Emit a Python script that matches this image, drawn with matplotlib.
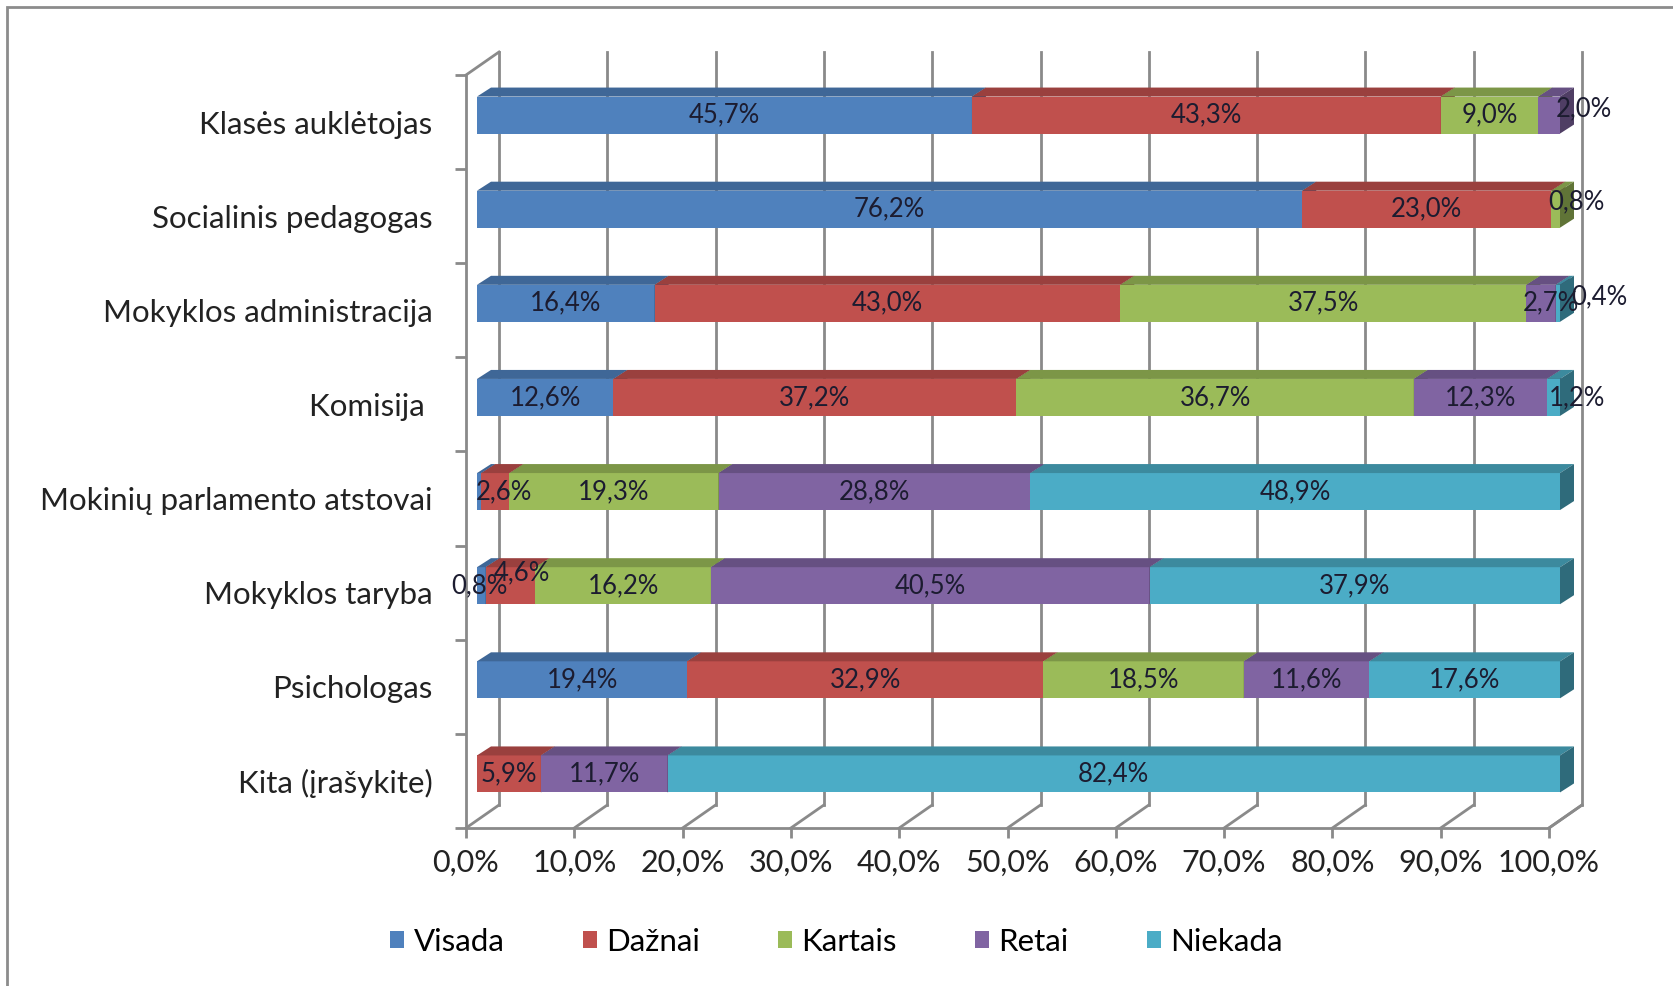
import matplotlib.pyplot as plt
from matplotlib.patches import Polygon, Patch, Rectangle
import numpy as np

plt.rcParams['font.family'] = ['Lato', 'DejaVu Sans']

# data (percent), rows top to bottom
categories = ['Klasės auklėtojas', 'Socialinis pedagogas', 'Mokyklos administracija',
              'Komisija ', 'Mokinių parlamento atstovai', 'Mokyklos taryba',
              'Psichologas', 'Kita (įrašykite)']
series = ['Visada', 'Dažnai', 'Kartais', 'Retai', 'Niekada']
visada = [45.7, 76.2, 16.4, 12.6, 0.4, 0.8, 19.4, 0.0]
daznai = [43.3, 23.0, 43.0, 37.2, 2.6, 4.6, 32.9, 5.9]
kartais = [9.0, 0.8, 37.5, 36.7, 19.3, 16.2, 18.5, 0.0]
retai = [2.0, 0.0, 2.7, 12.3, 28.8, 40.5, 11.6, 11.7]
niekada = [0.0, 0.0, 0.4, 1.2, 48.9, 37.9, 17.6, 82.4]
ticks = np.arange(0, 101, 10)

colors = ['#4F81BD', '#C0504D', '#9BBB59', '#8064A2', '#4BACC6']
hidden_labels = {(4, 0)}
# label nudges in pixels (dx, dy) where Excel moved small labels
nudges = {(0, 3): (35, -6), (1, 2): (21, -7), (2, 3): (10, 0), (2, 4): (42, -7),
          (3, 4): (24, 0), (4, 1): (9, 0), (5, 1): (11, -13), (5, 0): (-2, 0)}

W, H = 1673, 986
fig = plt.figure(figsize=(W / 100, H / 100), dpi=100)
ax = fig.add_axes([466 / W, 1 - 828 / H, 1083 / W, 753 / H])
ax.set_xlim(0, 100)
ax.set_ylim(8, 0)
PX = 100 / 1083
PY = 8 / 753

# 3D offsets
BX, BY = 11 * PX, -7 * PY      # bar front relative to axis plane
DX, DY = 14 * PX, -9 * PY      # bar depth
WX, WY = 33 * PX, -23 * PY     # back wall
HH = 18.5 * PY                 # half bar height

grid = '#8a8a8a'
# back wall gridlines and floor
for t in ticks:
    ax.plot([t + WX, t + WX], [8 + WY, WY], color=grid, lw=2, zorder=1, clip_on=False)
    ax.plot([t, t + WX], [8, 8 + WY], color=grid, lw=2, zorder=1, clip_on=False)
ax.plot([0, WX], [0, WY], color=grid, lw=2, zorder=1, clip_on=False)


def shade(c, f):
    r, g, b = [int(c[i:i + 2], 16) / 255 for i in (1, 3, 5)]
    return (r * f, g * f, b * f)


values = np.array([visada, daznai, kartais, retai, niekada]).T
for i, row in enumerate(values):
    yc = i + 0.5 + BY
    left = 0.0
    for k, v in enumerate(row):
        if v <= 0:
            continue
        x0, x1 = left + BX, left + v + BX
        yt, yb = yc - HH, yc + HH
        c = colors[k]
        ax.add_patch(Polygon([(x0, yb), (x1, yb), (x1, yt), (x0, yt)],
                             closed=True, fc=c, ec='none', zorder=3, clip_on=False))
        ax.add_patch(Polygon([(x0, yt), (x1, yt), (x1 + DX, yt + DY), (x0 + DX, yt + DY)],
                             closed=True, fc=shade(c, 0.8), ec='none', zorder=3, clip_on=False))
        ax.add_patch(Polygon([(x1, yt), (x1 + DX, yt + DY), (x1 + DX, yb + DY), (x1, yb)],
                             closed=True, fc=shade(c, 0.62), ec='none', zorder=3, clip_on=False))
        if (i, k) not in hidden_labels:
            nx, ny = nudges.get((i, k), (0, 0))
            ax.text((x0 + x1) / 2 + nx * PX, yc + ny * PY, f'{v:.1f}%'.replace('.', ','),
                    ha='center', va='center', fontsize=18.5, color='#1c1c30', zorder=5)
        left += v

# axes styling
for s in ['top', 'right']:
    ax.spines[s].set_visible(False)
for s in ['left', 'bottom']:
    ax.spines[s].set_color(grid)
    ax.spines[s].set_linewidth(2)
ax.plot([100, 100 + WX], [8, 8 + WY], color=grid, lw=2, clip_on=False, zorder=1)
ax.set_xticks(ticks)
ax.set_xticklabels([f'{t:.1f}%'.replace('.', ',') for t in ticks], fontsize=22, color='#222222')
ax.tick_params(axis='x', length=7, width=2, color=grid, pad=8)
ax.set_yticks(np.arange(0, 9))
ax.set_yticklabels([])
ax.tick_params(axis='y', which='major', length=8, width=2, color=grid)
ax.set_yticks(np.arange(8) + 0.5, minor=True)
ax.set_yticklabels(categories, minor=True, fontsize=22.5, color='#222222')
ax.tick_params(axis='y', which='minor', length=0, pad=24)

handles = [Patch(facecolor=c, label=s) for c, s in zip(colors, series)]
fig.legend(handles=handles, loc='center', bbox_to_anchor=(0.5, 1 - 942 / H), ncol=5,
           frameon=False, fontsize=22.5, handlelength=0.45, handleheight=0.45,
           handletextpad=0.3, columnspacing=2.5)

fig.patches.append(Rectangle((7 / W, -0.1), 1.2, 1 - 7 / H + 0.1, transform=fig.transFigure,
                             fill=False, ec='#8c8c8c', lw=2))

fig.savefig('out.png', dpi=100, facecolor='white')
